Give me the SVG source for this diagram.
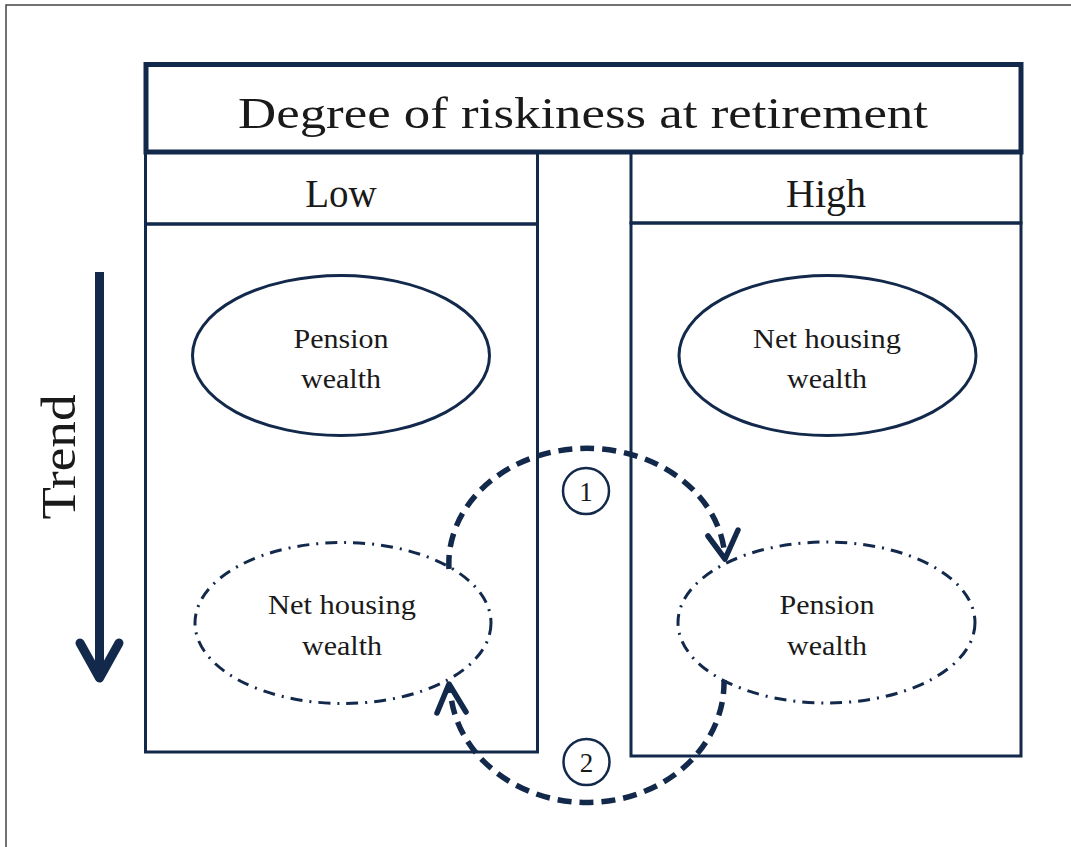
<svg xmlns="http://www.w3.org/2000/svg" width="1071" height="847" viewBox="0 0 1071 847">
<style>
.box{fill:none;stroke:#13294b;stroke-width:3}
.el{fill:none;stroke:#13294b;stroke-width:3}
.dd{fill:none;stroke:#13294b;stroke-width:3;stroke-dasharray:12 7 2 7}
.arc{fill:none;stroke:#13294b;stroke-width:5.5;stroke-dasharray:14 8}
.head{fill:none;stroke:#13294b;stroke-width:5.5;stroke-linecap:round;stroke-linejoin:round}
.t{font-family:"Liberation Serif","DejaVu Serif",serif;fill:#1a1a1a;text-anchor:middle}
</style>
<rect x="0" y="0" width="1071" height="847" fill="#ffffff"/>
<path d="M6 847 V5 H1071" fill="none" stroke="#444" stroke-width="1.5"/>
<g id="title">
<rect x="146" y="64.5" width="875" height="87.5" fill="none" stroke="#13294b" stroke-width="5"/>
<text class="t" x="583" y="128" font-size="44" textLength="690" lengthAdjust="spacingAndGlyphs">Degree of riskiness at retirement</text>
</g>
<g id="low">
<rect class="box" x="145.5" y="152" width="392" height="72"/>
<text class="t" x="341" y="207" font-size="39">Low</text>
<rect class="box" x="145.5" y="224" width="392" height="528"/>
</g>
<g id="high">
<rect class="box" x="631" y="152" width="390" height="71"/>
<text class="t" x="826" y="207" font-size="40">High</text>
<rect class="box" x="631" y="223" width="390" height="533"/>
</g>
<g id="pension-low">
<ellipse class="el" cx="341" cy="355.5" rx="148.5" ry="80"/>
<text class="t" x="341" y="348" font-size="27" textLength="95" lengthAdjust="spacingAndGlyphs">Pension</text>
<text class="t" x="341" y="388" font-size="27" textLength="80" lengthAdjust="spacingAndGlyphs">wealth</text>
</g>
<g id="housing-high">
<ellipse class="el" cx="827.5" cy="355.5" rx="148.5" ry="80"/>
<text class="t" x="827" y="348" font-size="27" textLength="148" lengthAdjust="spacingAndGlyphs">Net housing</text>
<text class="t" x="827" y="388" font-size="27" textLength="80" lengthAdjust="spacingAndGlyphs">wealth</text>
</g>
<g id="housing-low">
<ellipse class="dd" cx="343" cy="623" rx="148" ry="80.5"/>
<text class="t" x="342" y="614" font-size="27" textLength="148" lengthAdjust="spacingAndGlyphs">Net housing</text>
<text class="t" x="342" y="655" font-size="27" textLength="80" lengthAdjust="spacingAndGlyphs">wealth</text>
</g>
<g id="pension-high">
<ellipse class="dd" cx="826.5" cy="622.5" rx="148.5" ry="80.5"/>
<text class="t" x="827" y="614" font-size="27" textLength="95" lengthAdjust="spacingAndGlyphs">Pension</text>
<text class="t" x="827" y="655" font-size="27" textLength="80" lengthAdjust="spacingAndGlyphs">wealth</text>
</g>
<g id="connectors">
<path class="arc" d="M449 569 A138 115 0 0 1 725 558"/>
<path class="head" d="M708 536 L725 559 L738 530"/>
<path class="arc" d="M724 680 A137 120 0 0 1 450 685"/>
<path class="head" d="M437 713 L449 684 L466 712"/>
<line x1="99.5" y1="272" x2="99.5" y2="678" stroke="#13294b" stroke-width="9"/>
<path d="M80 643 L99.5 678 L119 643" fill="none" stroke="#13294b" stroke-width="9" stroke-linecap="round" stroke-linejoin="round"/>
</g>
<g id="label1">
<circle cx="586" cy="491" r="23" fill="#ffffff" stroke="#13294b" stroke-width="2.5"/>
<text class="t" x="586" y="501" font-size="27" fill="#13294b">1</text>
</g>
<g id="label2">
<circle cx="586.5" cy="762" r="23" fill="#ffffff" stroke="#13294b" stroke-width="2.5"/>
<text class="t" x="586.5" y="772" font-size="27">2</text>
</g>
<g id="trend">
<text class="t" transform="translate(75 457) rotate(-90)" x="0" y="0" font-size="48" textLength="125" lengthAdjust="spacingAndGlyphs">Trend</text>
</g>
</svg>
